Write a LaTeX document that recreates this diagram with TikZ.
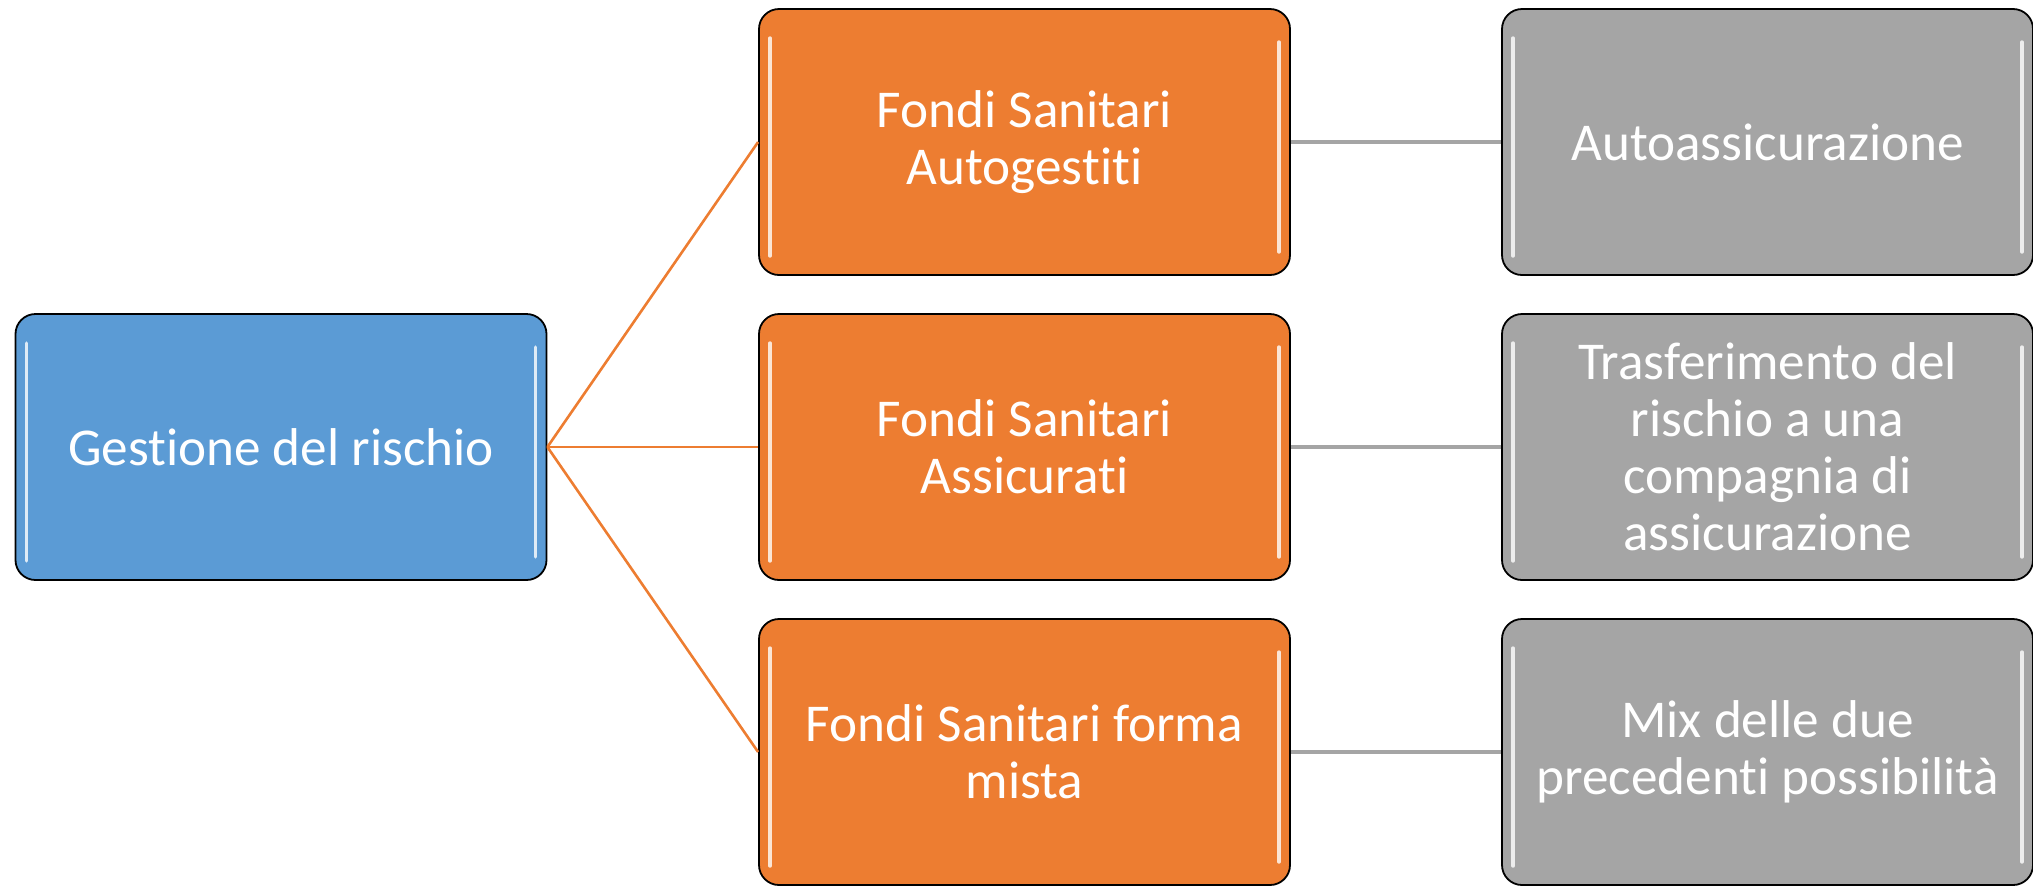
\documentclass[tikz,border=0pt]{standalone}
\usepackage{fontspec}
\setmainfont{Carlito}[Ligatures=NoCommon]
\begin{document}
\begin{tikzpicture}[x=.5pt,y=-.5pt, font=\fontsize{26.6}{28.5}\selectfont,
  box/.style={draw=black, line width=.9pt, rounded corners=10pt, text=white, align=center, minimum width=265.5pt, minimum height=133pt, inner sep=0pt},
  glow/.style={white, line width=1.8pt, line cap=round, opacity=.8}]
\useasboundingbox (0,0) rectangle (2033,885);
\definecolor{blu}{HTML}{5B9BD5}\definecolor{ara}{HTML}{ED7D31}\definecolor{gri}{HTML}{A5A5A5}
\node[box, fill=blu] (root) at (281,447) {Gestione del rischio};
\node[box, fill=ara] (f1) at (1024.5,142) {Fondi Sanitari\\Autogestiti};
\node[box, fill=ara] (f2) at (1024.5,447) {Fondi Sanitari\\Assicurati};
\node[box, fill=ara] (f3) at (1024.5,752) {Fondi Sanitari forma\\mista};
\node[box, fill=gri] (a1) at (1767.5,142) {Autoassicurazione};
\node[box, fill=gri] (a2) at (1767.5,447) {Trasferimento del\\rischio a una\\compagnia di\\assicurazione};
\node[box, fill=gri] (a3) at (1767.5,752) {Mix delle due\\precedenti possibilità};
\foreach \n in {root,f1,f2,f3,a1,a2,a3}
  \draw[glow] ([shift={(12,30)}]\n.north west) -- ([shift={(12,-20)}]\n.south west)
    ([shift={(-12,34)}]\n.north east) -- ([shift={(-12,-24)}]\n.south east);
\foreach \n in {1,2,3} {
  \draw[ara, line width=1.3pt] (root.east) -- (f\n.west);
  \draw[gri, line width=1.6pt] (f\n.east) -- (a\n.west);
}
\end{tikzpicture}
\end{document}
